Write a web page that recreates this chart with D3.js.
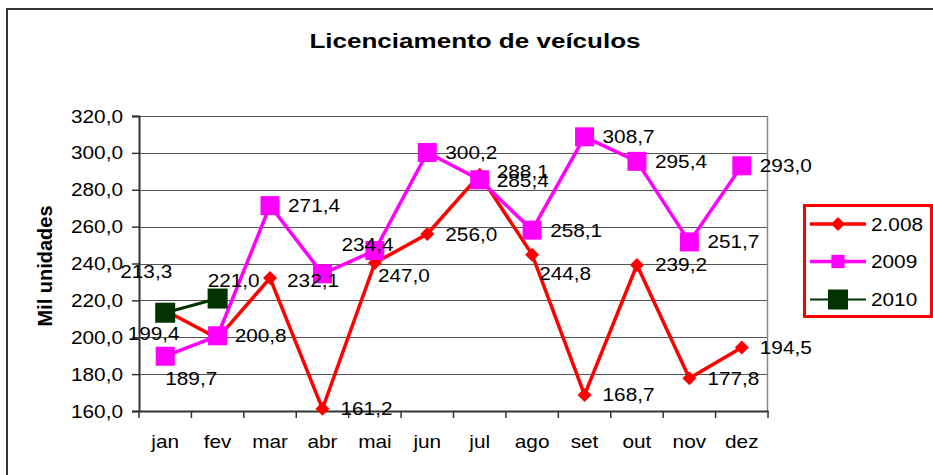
<!DOCTYPE html>
<html><head><meta charset="utf-8">
<script src="https://cdn.jsdelivr.net/npm/d3@7/dist/d3.min.js"></script>
<style>body{margin:0;background:#fff}svg{display:block}text{font-family:"Liberation Sans",Arial,sans-serif;fill:#000}</style>
</head><body><svg id="c" width="933" height="475"></svg>
<script>
const categories = ["jan","fev","mar","abr","mai","jun","jul","ago","set","out","nov","dez"];
const values2008 = [214.5,199.4,232.1,161.2,240.3,256.0,288.1,244.8,168.7,239.2,177.8,194.5];
const values2009 = [189.7,200.8,271.4,234.4,247.0,300.2,285.4,258.1,308.7,295.4,251.7,293.0];
const values2010 = [213.3,221.0];
const seriesNames = ["2.008","2009","2010"];
const yTicks = [160,180,200,220,240,260,280,300,320];

const series = [
  {name:seriesNames[0], values:values2008, color:"#ff0000", marker:"diamond", lw:3.5},
  {name:seriesNames[1], values:values2009, color:"#ff00ff", marker:"square", lw:3.5},
  {name:seriesNames[2], values:values2010, color:"#003300", marker:"bigsquare", lw:3}
];
// label placement tweaks (style), default offset to the right of the point
const labelOffsets = {
  "2-0":[-45,-41], "2-1":[-10,-18],
  "0-1":[-90,-5], "0-2":[17,2], "0-6":[17,-3], "0-7":[7,19],
  "1-0":[0,22], "1-1":[17,0], "1-3":[19,-29], "1-4":[3,25], "1-6":[17,1]
};
const hiddenLabels = new Set(["0-0","0-4"]);

const svg = d3.select("#c");
const fmt = v => d3.format(".1f")(v).replace(".", ",");
const SX = 1.155;

function txt(g, x, y, s, o={}) {
  return g.append("text")
    .attr("transform", `translate(${x},${y}) scale(${o.sx||SX},1)`)
    .attr("text-anchor", o.anchor||"start")
    .style("font-size", (o.size||18)+"px")
    .style("font-weight", o.weight||"normal")
    .text(s);
}

// outer border
svg.append("path").attr("d","M7,475 V9 H933").attr("fill","none").attr("stroke","#333").attr("stroke-width",2);

const x = d3.scaleBand().domain(categories).range([139,768]);
const y = d3.scaleLinear().domain([160,320]).range([411,116]);
const cx = c => x(c) + x.bandwidth()/2;

// gridlines
svg.append("g").selectAll("line").data(yTicks).join("line")
  .attr("x1",139).attr("x2",768)
  .attr("y1",d=>Math.round(y(d))+0.5).attr("y2",d=>Math.round(y(d))+0.5)
  .attr("stroke","#555").attr("stroke-width",1);
// right plot border
svg.append("line").attr("x1",767.5).attr("x2",767.5).attr("y1",116).attr("y2",411).attr("stroke","#888").attr("stroke-width",1.5);

// y axis
const ya = svg.append("g").attr("transform","translate(139,0)")
  .call(d3.axisLeft(y).tickValues(yTicks).tickSize(7).tickFormat(""));
ya.select(".domain").attr("stroke","#333").attr("stroke-width",2);
ya.selectAll(".tick line").attr("stroke","#333").attr("stroke-width",1.5);
yTicks.forEach(t => txt(svg, 123, y(t)+6.5, fmt(t), {anchor:"end"}));

// x axis
const xa = svg.append("g").attr("transform","translate(0,411)")
  .call(d3.axisBottom(x).tickSize(0).tickFormat(""));
xa.select(".domain").attr("stroke","#333").attr("stroke-width",2);
const bounds = categories.map(c => x(c)).concat([768]);
svg.append("g").selectAll("line").data(bounds).join("line")
  .attr("x1",d=>d).attr("x2",d=>d).attr("y1",411).attr("y2",418)
  .attr("stroke","#333").attr("stroke-width",1.5);
categories.forEach(c => txt(svg, cx(c), 448, c, {anchor:"middle"}));

// title & axis title
txt(svg, 475, 48, "Licenciamento de veículos", {anchor:"middle", size:21, weight:"bold", sx:1.24});
svg.append("text").attr("transform","translate(52,266) rotate(-90)")
  .attr("text-anchor","middle").style("font-size","20px").style("font-weight","bold")
  .text("Mil unidades");

function marker(g, kind, px, py, color, scale=1) {
  if (kind==="diamond") {
    const r = 7*scale;
    g.append("path").attr("d",`M${px},${py-r}L${px+r},${py}L${px},${py+r}L${px-r},${py}Z`).attr("fill",color);
  } else {
    const s = (kind==="bigsquare" ? 20 : 19)*scale;
    g.append("rect").attr("x",px-s/2).attr("y",py-s/2).attr("width",s).attr("height",s).attr("fill",color);
  }
}

const line = d3.line().x((d,i)=>cx(categories[i])).y(d=>y(d));
const gS = svg.append("g");
series.forEach(s => {
  gS.append("path").datum(s.values).attr("d",line).attr("fill","none")
    .attr("stroke",s.color).attr("stroke-width",s.lw).attr("stroke-linejoin","miter");
  s.values.forEach((v,i) => marker(gS, s.marker, cx(categories[i]), y(v), s.color));
});
// data labels
const gL = svg.append("g");
series.forEach((s,si) => {
  s.values.forEach((v,i) => {
    const k = si+"-"+i;
    if (hiddenLabels.has(k)) return;
    const [dx,dy] = labelOffsets[k] || [18,0];
    txt(gL, cx(categories[i])+dx, y(v)+dy+6.5, fmt(v));
  });
});

// legend
const lg = svg.append("g");
lg.append("rect").attr("x",804.5).attr("y",205.5).attr("width",127).attr("height",111)
  .attr("fill","#fff").attr("stroke","#ff0000").attr("stroke-width",3);
const legY = [224,261.5,299.5];
series.forEach((s,i) => {
  lg.append("line").attr("x1",810).attr("x2",866).attr("y1",legY[i]).attr("y2",legY[i])
    .attr("stroke",s.color).attr("stroke-width", i===2 ? 2 : 3.5);
  marker(lg, s.marker, 838, legY[i], s.color, i===1 ? 0.7 : 1);
  txt(lg, 871, legY[i]+6.5, s.name);
});
</script></body></html>
